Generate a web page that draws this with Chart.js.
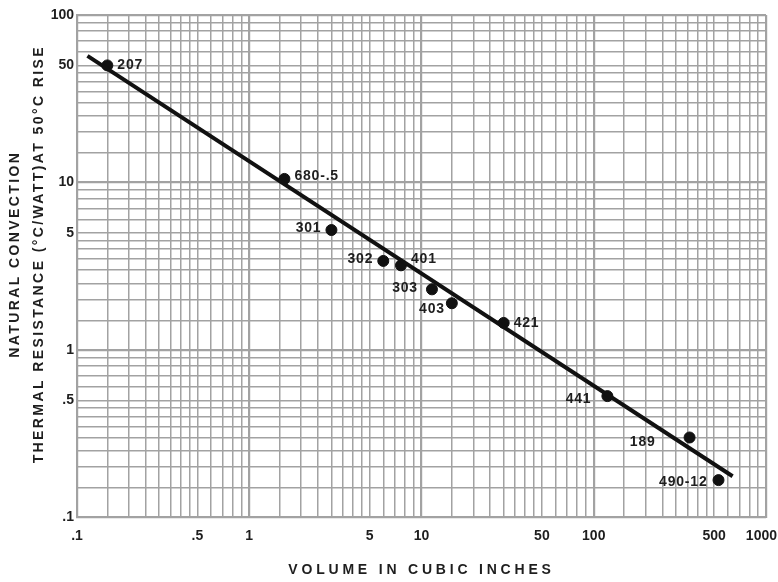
<!DOCTYPE html>
<html>
<head>
<meta charset="utf-8">
<script src="https://cdn.jsdelivr.net/npm/chart.js@4/dist/chart.umd.min.js"></script>
<style>
  html, body { margin: 0; padding: 0; background: #fff; }
  #wrap { width: 778px; height: 582px; }
</style>
</head>
<body>
<div id="wrap"><canvas id="myChart"></canvas></div>
<script>
// heat sink models: volume (cubic inches) vs thermal resistance (°C/W)
const models = ['207', '680-.5', '301', '302', '401', '303', '403', '421', '441', '189', '490-12'];
const volumes = [0.15, 1.6, 3.0, 6.0, 7.6, 11.5, 15, 30, 120, 360, 530];
const resistances = [50, 10.5, 5.2, 3.4, 3.2, 2.3, 1.9, 1.45, 0.53, 0.3, 0.167];

// fitted trend line ends
const fitX = [0.115, 640];
const fitY = [57, 0.176];

// log paper rulings and labelled ticks
const gridSteps = [1, 1.5, 2, 2.5, 3, 3.5, 4, 4.5, 5, 6, 7, 8, 9];
const xDecades = [0.1, 1, 10, 100];
const yDecades = [0.1, 1, 10];
const xLabels = [0.1, 0.5, 1, 5, 10, 50, 100, 500];
const xEndLabel = 1000; // sits tucked inside the right edge on the paper
const yLabels = [0.1, 0.5, 1, 5, 10, 50, 100];

// label placement next to each point: side and small nudge
const labelSide = ['r', 'r', 'l', 'l', 'r', 'l', 'l', 'r', 'l', 'l', 'l'];
const labelGap = [10, 10, 10, 10, 10, 14, 7, 10, 16, 34, 11];
const labelDy = [0, -3, -2, -2, -6, -1, 6, 0, 3, 5, 2];

const FONT = '"Liberation Sans", Arial, sans-serif';
const INK = '#1e1e1e';
const GRID = '#a2a2a2';

const buildGrid = (decades, last) => {
    const vals = [];
    decades.forEach(d => gridSteps.forEach(s => vals.push(+(d * s).toPrecision(3))));
    vals.push(last);
    return vals;
};

const fmt = (v) => v < 1 ? String(v).replace(/^0/, '') : String(v);

const isDecade = (v) => Math.abs(Math.log10(v) - Math.round(Math.log10(v))) < 1e-6;

const gridWidth = (c) => c.tick && isDecade(c.tick.value) ? 2.2 : 1.5;

// wide letter spacing on the axis titles, y title nudged up a little
const titleSpacing = {
    id: 'titleSpacing',
    afterUpdate(chart) {
        const spacing = { x: '3.8px', y: '2.4px' };
        const shift = { x: 0, y: -12 };
        Object.keys(spacing).forEach(id => {
            const s = chart.scales[id];
            if (!s || s._spaced) return;
            const draw = s.drawTitle;
            s.drawTitle = function () {
                const ctx = this.ctx;
                ctx.save();
                ctx.translate(0, shift[id]);
                ctx.letterSpacing = spacing[id];
                draw.call(this);
                ctx.letterSpacing = '0px';
                ctx.restore();
            };
            s._spaced = true;
        });
    }
};

const pointLabels = {
    id: 'pointLabels',
    afterDatasetsDraw(chart) {
        const ctx = chart.ctx;
        const meta = chart.getDatasetMeta(1);
        ctx.save();
        ctx.font = 'bold 14px ' + FONT;
        ctx.letterSpacing = '0.8px';
        ctx.fillStyle = INK;
        ctx.textBaseline = 'middle';
        meta.data.forEach((pt, i) => {
            const left = labelSide[i] === 'l';
            ctx.textAlign = left ? 'right' : 'left';
            ctx.fillText(models[i], pt.x + (left ? -labelGap[i] : labelGap[i]), pt.y + labelDy[i]);
        });
        ctx.letterSpacing = '0px';
        ctx.restore();
    },
    afterDraw(chart) {
        // last x label, right-aligned so it stays on the page
        const x = chart.scales.x;
        const ctx = chart.ctx;
        ctx.save();
        ctx.font = 'bold 14px ' + FONT;
        ctx.fillStyle = INK;
        ctx.textAlign = 'right';
        ctx.textBaseline = 'middle';
        ctx.fillText(fmt(xEndLabel), x.getPixelForValue(xEndLabel) + 11, x.top + 10 + 8.4);
        ctx.restore();
    }
};

const tickFont = { family: FONT, size: 14, weight: 'bold' };

new Chart(document.getElementById('myChart'), {
    type: 'scatter',
    data: {
        datasets: [{
            type: 'line',
            data: fitX.map((x, i) => ({ x: x, y: fitY[i] })),
            borderColor: '#111',
            borderWidth: 4,
            pointRadius: 0,
            fill: false
        }, {
            data: volumes.map((x, i) => ({ x: x, y: resistances[i] })),
            backgroundColor: '#111',
            borderColor: '#111',
            pointRadius: 5.5
        }]
    },
    options: {
        responsive: true,
        maintainAspectRatio: false,
        animation: false,
        layout: { padding: { left: 3, right: 0, top: 15, bottom: 3 } },
        plugins: { legend: { display: false }, tooltip: { enabled: false } },
        scales: {
            x: {
                type: 'logarithmic',
                min: 0.1,
                max: 1000,
                afterBuildTicks: (scale) => {
                    scale.ticks = buildGrid(xDecades, 1000).map(v => ({ value: v }));
                },
                afterFit: (scale) => { scale.paddingRight = 12; },
                ticks: {
                    autoSkip: false,
                    maxRotation: 0,
                    padding: 10,
                    color: INK,
                    font: tickFont,
                    callback: (v) => xLabels.some(l => Math.abs(l - v) < 1e-9) ? fmt(v) : ''
                },
                grid: { color: GRID, lineWidth: gridWidth, drawTicks: false },
                border: { color: GRID, width: 2 },
                title: {
                    display: true,
                    text: 'VOLUME IN CUBIC INCHES',
                    color: INK,
                    font: { family: FONT, size: 14, weight: 'bold' },
                    padding: { top: 8, bottom: 0 }
                }
            },
            y: {
                type: 'logarithmic',
                min: 0.1,
                max: 100,
                afterBuildTicks: (scale) => {
                    scale.ticks = buildGrid(yDecades, 100).map(v => ({ value: v }));
                },
                afterFit: (scale) => { scale.width = 74; },
                ticks: {
                    autoSkip: false,
                    padding: 3,
                    color: INK,
                    font: tickFont,
                    callback: (v) => yLabels.some(l => Math.abs(l - v) < 1e-9) ? fmt(v) : ''
                },
                grid: { color: GRID, lineWidth: gridWidth, drawTicks: false },
                border: { color: GRID, width: 2 },
                title: {
                    display: true,
                    text: ['NATURAL CONVECTION', 'THERMAL RESISTANCE (°C/WATT)AT 50°C RISE'],
                    color: INK,
                    font: { family: FONT, size: 14, weight: 'bold', lineHeight: 1.7 },
                    padding: { top: 0, bottom: 0 }
                }
            }
        }
    },
    plugins: [titleSpacing, pointLabels]
});
</script>
</body>
</html>
